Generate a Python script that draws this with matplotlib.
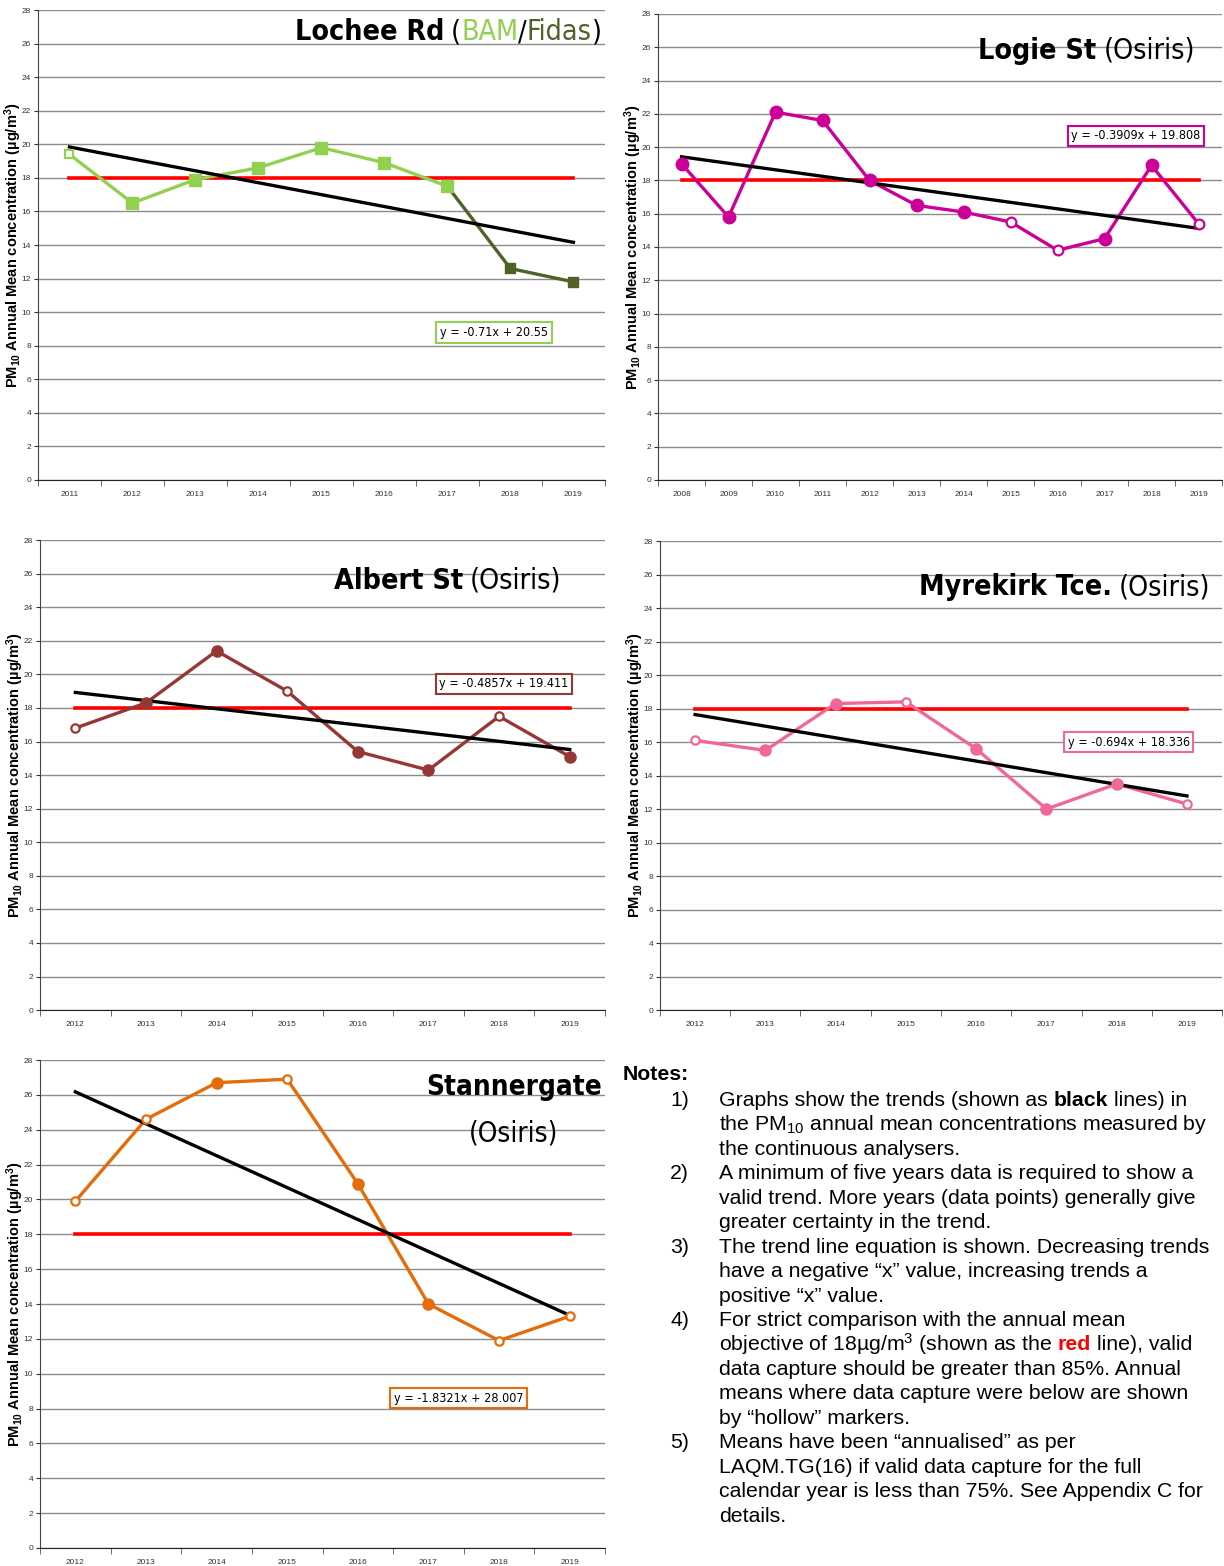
import matplotlib
matplotlib.use("Agg")
import matplotlib.pyplot as plt
import numpy as np

plt.rcParams['font.family'] = ['Liberation Sans', 'DejaVu Sans']
plt.rcParams['mathtext.fontset'] = 'custom'
plt.rcParams['mathtext.rm'] = 'Liberation Sans'
plt.rcParams['mathtext.it'] = 'Liberation Sans:italic'
plt.rcParams['mathtext.bf'] = 'Liberation Sans:bold'

NARROW = dict(family='DejaVu Sans', fontstretch='condensed')
TITLE_FS = 20.5

# Lochee Rd (BAM then Fidas)
lochee_years = ['2011', '2012', '2013', '2014', '2015', '2016', '2017', '2018', '2019']
lochee_bam = [19.4, 16.5, 17.9, 18.6, 19.8, 18.9, 17.5, np.nan, np.nan]
lochee_fidas = [np.nan, np.nan, np.nan, np.nan, np.nan, np.nan, 17.5, 12.6, 11.8]
lochee_hollow = [True, False, False, False, False, False, False, False, False]
lochee_trend = (-0.71, 20.55)

# Logie St
logie_years = ['2008', '2009', '2010', '2011', '2012', '2013', '2014', '2015',
               '2016', '2017', '2018', '2019']
logie_vals = [19.0, 15.8, 22.1, 21.6, 18.0, 16.5, 16.1, 15.5, 13.8, 14.5, 18.9, 15.4]
logie_hollow = [False, False, False, False, False, False, False, True, True, False, False, True]
logie_trend = (-0.3909, 19.808)

# Albert St
albert_years = ['2012', '2013', '2014', '2015', '2016', '2017', '2018', '2019']
albert_vals = [16.8, 18.3, 21.4, 19.0, 15.4, 14.3, 17.5, 15.1]
albert_hollow = [True, False, False, True, False, False, True, False]
albert_trend = (-0.4857, 19.411)

# Myrekirk Tce.
myre_years = ['2012', '2013', '2014', '2015', '2016', '2017', '2018', '2019']
myre_vals = [16.1, 15.5, 18.3, 18.4, 15.6, 12.0, 13.5, 12.3]
myre_hollow = [True, False, False, True, False, False, False, True]
myre_trend = (-0.694, 18.336)

# Stannergate
stan_years = ['2012', '2013', '2014', '2015', '2016', '2017', '2018', '2019']
stan_vals = [19.9, 24.6, 26.7, 26.9, 20.9, 14.0, 11.9, 13.3]
stan_hollow = [True, True, False, True, False, False, True, True]
stan_trend = (-1.8321, 28.007)

objective = 18

YLABEL = r'PM$_{\mathbf{10}}$ Annual Mean concentration (µg/m$^{\mathbf{3}}$)'


def style_axes(ax, years):
    n = len(years)
    ax.set_xlim(-0.5, n - 0.5)
    ax.set_ylim(0, 28)
    ax.set_yticks(range(0, 29, 2))
    ax.set_xticks(np.arange(n))
    ax.set_xticklabels(years)
    ax.set_xticks(np.arange(n + 1) - 0.5, minor=True)
    ax.tick_params(axis='x', which='major', length=0, labelsize=6, pad=8, colors='#333333')
    ax.tick_params(axis='x', which='minor', length=4, color='#555555')
    ax.tick_params(axis='y', length=3, labelsize=6, pad=2, colors='#333333')
    ax.grid(axis='y', color='#8c8c8c', lw=1.0)
    ax.set_axisbelow(True)
    for s in ['top', 'right']:
        ax.spines[s].set_visible(False)
    ax.spines['left'].set_color('#444444')
    ax.spines['bottom'].set_color('#222222')
    ax.set_ylabel(YLABEL, fontsize=10.5, fontweight='bold')
    ax.yaxis.set_label_coords(-0.024, 0.5)


def draw_series(ax, values, hollow, colour, marker='o', ms=8, line=True):
    x = np.arange(len(values))
    v = np.array(values, dtype=float)
    h = np.array(hollow)
    if line:
        ax.plot(x, v, color=colour, lw=2.4, zorder=3)
    ax.plot(x[~h], v[~h], ls='none', marker=marker, ms=ms, color=colour, zorder=5)
    ax.plot(x[h], v[h], ls='none', marker=marker, ms=ms - 2, mfc='white',
            mec=colour, mew=1.6, zorder=5)


def draw_refs(ax, n, trend, colour, eq_xy):
    ax.plot([0, n - 1], [objective, objective], color='#ff0000', lw=2.6, zorder=2)
    slope, icpt = trend
    xt = np.array([1, n])
    ax.plot(xt - 1, slope * xt + icpt, color='black', lw=2.4, zorder=4)
    ax.text(eq_xy[0], eq_xy[1], f'y = {slope}x + {icpt}', fontsize=9,
            ha='center', va='center', zorder=6, **NARROW,
            bbox=dict(boxstyle='square,pad=0.3', fc='white', ec=colour, lw=1.5))


def rich(ax, parts, x, y, coords, align='left', fontsize=TITLE_FS):
    # parts: list of (text, props, gap in points before the part)
    seq = parts if align == 'left' else parts[::-1]
    prev = None
    next_gap = 0
    for txt, props, gap in seq:
        if prev is None:
            prev = ax.annotate(txt, xy=(x, y), xycoords=coords, ha=align,
                               va='baseline', fontsize=fontsize, **props)
        else:
            if align == 'left':
                off, xy = gap, (1, y)
            else:
                off, xy = -next_gap, (0, y)
            prev = ax.annotate(txt, xy=xy, xycoords=(prev, coords),
                               xytext=(off, 0), textcoords='offset points',
                               ha=align, va='baseline', fontsize=fontsize, **props)
        next_gap = gap


fig = plt.figure(figsize=(12.24, 15.66), dpi=100)

ax1 = fig.add_axes([0.0310, 0.6935, 0.4632, 0.3001])
ax2 = fig.add_axes([0.5376, 0.6935, 0.4608, 0.2976])
ax3 = fig.add_axes([0.0327, 0.3550, 0.4616, 0.3001])
ax4 = fig.add_axes([0.5392, 0.3550, 0.4592, 0.2995])
ax5 = fig.add_axes([0.0327, 0.0115, 0.4616, 0.3116])
axn = fig.add_axes([0, 0, 1, 1])
axn.axis('off')
axn.set_zorder(-1)

B = dict(fontweight='bold', color='black', **NARROW)
R = dict(color='black', **NARROW)

# Lochee Rd
style_axes(ax1, lochee_years)
fid = np.array(lochee_fidas)
ax1.plot(np.arange(len(fid)), fid, color='#4f6228', lw=2.4, zorder=3)
ax1.plot(np.arange(len(fid))[7:], fid[7:], ls='none', marker='s', ms=7, color='#4f6228', zorder=5)
draw_series(ax1, lochee_bam, lochee_hollow, '#92d050', marker='s', ms=8)
draw_refs(ax1, len(lochee_years), lochee_trend, '#92d050', (6.74, 8.8))
rich(ax1, [('Lochee Rd', B, 0), ('(', R, 5), ('BAM', dict(color='#92d050', **NARROW), 0),
           ('/', R, 0), ('Fidas', dict(color='#4f6228', **NARROW), 0), (')', R, 0)],
     8.45, 26.2, 'data', align='right')

# Logie St
style_axes(ax2, logie_years)
draw_series(ax2, logie_vals, logie_hollow, '#cc0099', ms=9)
draw_refs(ax2, len(logie_years), logie_trend, '#cc0099', (9.67, 20.67))
rich(ax2, [('Logie St', B, 0), ('(Osiris)', R, 5)], 10.92, 25.3, 'data', align='right')

# Albert St
style_axes(ax3, albert_years)
draw_series(ax3, albert_vals, albert_hollow, '#953735', ms=8)
draw_refs(ax3, len(albert_years), albert_trend, '#953735', (6.07, 19.43))
rich(ax3, [('Albert St', B, 0), ('(Osiris)', R, 5)], 6.88, 25.1, 'data', align='right')

# Myrekirk Tce.
style_axes(ax4, myre_years)
draw_series(ax4, myre_vals, myre_hollow, '#f2679a', ms=8)
draw_refs(ax4, len(myre_years), myre_trend, '#f2679a', (6.17, 16.0))
rich(ax4, [('Myrekirk Tce.', B, 0), ('(Osiris)', R, 5)], 7.33, 24.75, 'data', align='right')

# Stannergate
style_axes(ax5, stan_years)
draw_series(ax5, stan_vals, stan_hollow, '#e46c0a', ms=8)
draw_refs(ax5, len(stan_years), stan_trend, '#e46c0a', (5.43, 8.6))
ax5.text(6.21, 26.0, 'Stannergate', fontsize=20, ha='center', va='baseline', **B)
ax5.text(6.21, 23.3, '(Osiris)', fontsize=20, ha='center', va='baseline', **R)

# Notes
NF = 15.3
axn.text(623 / 1224, 1 - 1075 / 1566, 'Notes:', fontsize=NF, fontweight='bold', va='center')
note_lines = [
    ('1)', [('Graphs show the trends (shown as', {}, 0), ('black', dict(fontweight='bold'), 4.2),
            ('lines) in', {}, 4.2)]),
    ('', [('the PM$_{10}$ annual mean concentrations measured by', {}, 0)]),
    ('', [('the continuous analysers.', {}, 0)]),
    ('2)', [('A minimum of five years data is required to show a', {}, 0)]),
    ('', [('valid trend. More years (data points) generally give', {}, 0)]),
    ('', [('greater certainty in the trend.', {}, 0)]),
    ('3)', [('The trend line equation is shown. Decreasing trends', {}, 0)]),
    ('', [('have a negative \u201cx\u201d value, increasing trends a', {}, 0)]),
    ('', [('positive \u201cx\u201d value.', {}, 0)]),
    ('4)', [('For strict comparison with the annual mean', {}, 0)]),
    ('', [('objective of 18µg/m$^3$ (shown as the', {}, 0),
          ('red', dict(fontweight='bold', color='#ff0000'), 4.2), ('line), valid', {}, 4.2)]),
    ('', [('data capture should be greater than 85%. Annual', {}, 0)]),
    ('', [('means where data capture were below are shown', {}, 0)]),
    ('', [('by \u201chollow\u201d markers.', {}, 0)]),
    ('5)', [('Means have been \u201cannualised\u201d as per', {}, 0)]),
    ('', [('LAQM.TG(16) if valid data capture for the full', {}, 0)]),
    ('', [('calendar year is less than 75%. See Appendix C for', {}, 0)]),
    ('', [('details.', {}, 0)]),
]
for i, (num, parts) in enumerate(note_lines):
    yb = 1 - (1100 + 24.45 * i + 6) / 1566
    if num:
        axn.text(670 / 1224, yb, num, fontsize=NF, va='baseline')
    rich(axn, parts, 719 / 1224, yb, 'axes fraction', align='left', fontsize=NF)

fig.savefig('out.png', dpi=100)
